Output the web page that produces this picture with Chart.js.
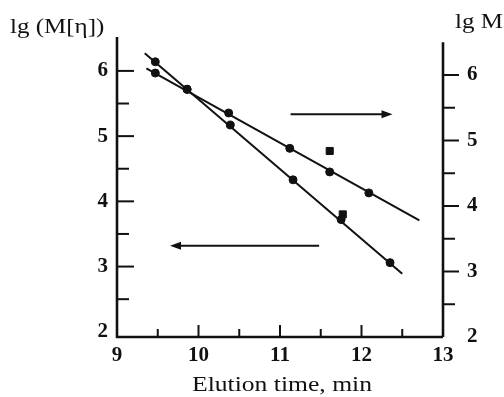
<!DOCTYPE html>
<html>
<head>
<meta charset="utf-8">
<script src="https://cdn.jsdelivr.net/npm/chart.js@4.4.1/dist/chart.umd.min.js"></script>
<style>
  html, body { margin: 0; padding: 0; background: #fff; }
  #wrap { width: 504px; height: 397px; position: relative; }
</style>
</head>
<body>
<div id="wrap"><canvas id="chart"></canvas></div>
<script>
// Значения
const xTicks = [9, 10, 11, 12, 13];
const xMajorMarks = [10, 11, 12];
const xMinor = [9.5, 10.5, 11.5, 12.5];
const yTicks = [2, 3, 4, 5, 6];
const yMajorMarks = [3, 4, 5, 6];
const yMinor = [2.5, 3.5, 4.5, 5.5];

// lg(M[η]) - левая ось
const etaX = [9.47, 9.86, 10.39, 11.16, 11.75, 12.35];
const etaY = [6.14, 5.72, 5.17, 4.33, 3.72, 3.06];
const etaLineX = [9.34, 12.5];
const etaLineY = [6.27, 2.89];
const etaSquareX = [11.77];
const etaSquareY = [3.80];

// lg M - правая ось
const mX = [9.47, 9.86, 10.37, 11.12, 11.61, 12.09];
const mY = [6.03, 5.78, 5.42, 4.88, 4.52, 4.20];
const mLineX = [9.36, 12.71];
const mLineY = [6.10, 3.78];
const mSquareX = [11.61];
const mSquareY = [4.84];

// стрелки к осям: [хвост, острие]
const arrowMX = [11.13, 12.38];
const arrowMY = 5.40;
const arrowEtaX = [11.48, 9.65];
const arrowEtaY = 3.32;

const pts = (xs, ys) => xs.map((x, i) => ({ x: x, y: ys[i] }));
const ink = '#111';
const serif = '"Liberation Serif", "Times New Roman", Times, serif';

// Растянутый по горизонтали текст, как на исходной картинке
function wideText(ctx, text, x, y, font, sx, align) {
    ctx.save();
    ctx.font = font;
    ctx.textBaseline = 'middle';
    ctx.textAlign = align;
    ctx.translate(x, y);
    ctx.scale(sx, 1);
    ctx.fillText(text, 0, 0);
    ctx.restore();
}

const decor = {
    id: 'decor',
    afterDraw(chart) {
        const ctx = chart.ctx;
        const xs = chart.scales.x, yl = chart.scales.y, yr = chart.scales.y1;
        const a = chart.chartArea;
        ctx.save();
        ctx.strokeStyle = ink;
        ctx.fillStyle = ink;

        // оси
        ctx.lineWidth = 2.6;
        ctx.beginPath();
        ctx.moveTo(a.left, a.top);
        ctx.lineTo(a.left, a.bottom);
        ctx.lineTo(a.right, a.bottom);
        ctx.moveTo(a.right, yr.getPixelForValue(6.5));
        ctx.lineTo(a.right, a.bottom);
        ctx.stroke();

        // засечки
        ctx.lineWidth = 2;
        const tick = (x1, y1, x2, y2) => {
            ctx.beginPath(); ctx.moveTo(x1, y1); ctx.lineTo(x2, y2); ctx.stroke();
        };
        yMajorMarks.forEach(v => { const p = yl.getPixelForValue(v); tick(a.left, p, a.left + 17, p); });
        yMinor.forEach(v => { const p = yl.getPixelForValue(v); tick(a.left, p, a.left + 12, p); });
        yMajorMarks.forEach(v => { const p = yr.getPixelForValue(v); tick(a.right, p, a.right + 16, p); });
        yMinor.forEach(v => { const p = yr.getPixelForValue(v); tick(a.right, p, a.right + 12, p); });
        xMajorMarks.forEach(v => { const p = xs.getPixelForValue(v); tick(p, a.bottom, p, a.bottom - 12); });
        xMinor.forEach(v => { const p = xs.getPixelForValue(v); tick(p, a.bottom, p, a.bottom - 8); });

        // стрелки
        const arrow = (x0, x1, y) => {
            ctx.lineWidth = 2;
            const dir = Math.sign(x1 - x0);
            ctx.beginPath(); ctx.moveTo(x0, y); ctx.lineTo(x1 - dir * 6, y); ctx.stroke();
            ctx.beginPath();
            ctx.moveTo(x1, y);
            ctx.lineTo(x1 - dir * 11, y - 4);
            ctx.lineTo(x1 - dir * 11, y + 4);
            ctx.closePath();
            ctx.fill();
        };
        arrow(xs.getPixelForValue(arrowMX[0]), xs.getPixelForValue(arrowMX[1]), yr.getPixelForValue(arrowMY));
        arrow(xs.getPixelForValue(arrowEtaX[0]), xs.getPixelForValue(arrowEtaX[1]), yl.getPixelForValue(arrowEtaY));

        // подписи осей
        wideText(ctx, 'lg (M[η])', 10, 28, '20px ' + serif, 1.25, 'left');
        wideText(ctx, 'lg M', 455, 23, '20px ' + serif, 1.25, 'left');
        wideText(ctx, 'Elution time, min', (a.left + a.right) / 2 + 2, 385, '21px ' + serif, 1.22, 'center');
        ctx.restore();
    }
};

const tickFont = { family: serif, size: 21, weight: 'bold' };

new Chart(document.getElementById('chart'), {
    type: 'scatter',
    data: {
        datasets: [
            { data: pts(etaLineX, etaLineY), yAxisID: 'y', showLine: true, borderColor: ink, borderWidth: 2, pointRadius: 0 },
            { data: pts(etaX, etaY), yAxisID: 'y', pointRadius: 4, backgroundColor: ink, borderColor: ink },
            { data: pts(etaSquareX, etaSquareY), yAxisID: 'y', pointStyle: 'rect', pointRadius: 5, backgroundColor: ink, borderColor: ink },
            { data: pts(mLineX, mLineY), yAxisID: 'y1', showLine: true, borderColor: ink, borderWidth: 2, pointRadius: 0 },
            { data: pts(mX, mY), yAxisID: 'y1', pointRadius: 4, backgroundColor: ink, borderColor: ink },
            { data: pts(mSquareX, mSquareY), yAxisID: 'y1', pointStyle: 'rect', pointRadius: 5, backgroundColor: ink, borderColor: ink }
        ]
    },
    options: {
        responsive: true,
        maintainAspectRatio: false,
        animation: false,
        layout: { padding: { top: 37, left: 0, right: 0, bottom: 0 } },
        plugins: {
            legend: { display: false },
            tooltip: { enabled: false }
        },
        scales: {
            x: {
                type: 'linear',
                min: 9,
                max: 13,
                afterBuildTicks: s => { s.ticks = xTicks.map(v => ({ value: v })); },
                afterFit: s => { s.height = 60; },
                grid: { display: false, drawTicks: false },
                border: { display: false },
                ticks: { color: ink, font: tickFont, padding: 6, autoSkip: false, maxRotation: 0 }
            },
            y: {
                position: 'left',
                min: 1.92,
                max: 6.52,
                afterBuildTicks: s => { s.ticks = yTicks.map(v => ({ value: v })); },
                afterFit: s => { s.width = 117; },
                grid: { display: false, drawTicks: false },
                border: { display: false },
                ticks: { color: ink, font: tickFont, padding: 9 }
            },
            y1: {
                position: 'right',
                min: 2,
                max: 6.58,
                afterBuildTicks: s => { s.ticks = yTicks.map(v => ({ value: v })); },
                afterFit: s => { s.width = 61; },
                grid: { display: false, drawTicks: false },
                border: { display: false },
                ticks: { color: ink, font: tickFont, padding: 24 }
            }
        }
    },
    plugins: [decor]
});
</script>
</body>
</html>
